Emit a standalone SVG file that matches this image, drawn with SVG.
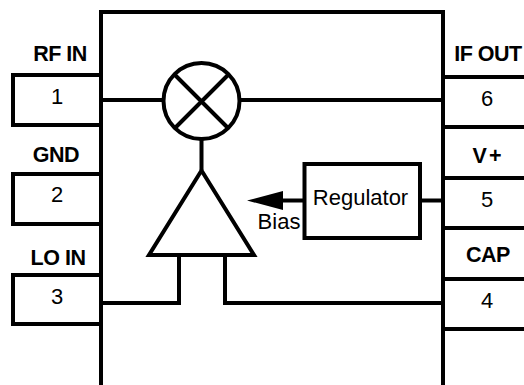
<svg xmlns="http://www.w3.org/2000/svg" width="524" height="385" viewBox="0 0 524 385">
<style>
.l{fill:none;stroke:#000;stroke-width:4;stroke-miterlimit:10}
text{font-family:"Liberation Sans",Arial,sans-serif;fill:#000;text-anchor:middle}
.b{font-weight:bold;font-size:21.500px;letter-spacing:-.5px}
.n{font-size:22px}
</style>
<rect width="524" height="385" fill="#fff"/>
<g id="chip"><path class="l" d="M101 385V12H443V385"/></g>
<g id="pin1"><path class="l" d="M101 75H13V125H101"/><text class="n" x="57" y="104">1</text><text class="b" x="60" y="61">RF IN</text></g>
<g id="pin2"><path class="l" d="M101 174H13V224H101"/><text class="n" x="57" y="202">2</text><text class="b" x="56" y="162">GND</text></g>
<g id="pin3"><path class="l" d="M101 275H13V324H101"/><text class="n" x="57" y="304">3</text><text class="b" x="58" y="265">LO IN</text></g>
<g id="pin6"><path class="l" d="M443 77H524M443 127H524"/><text class="n" x="487" y="106">6</text><text class="b" x="488" y="61">IF OUT</text></g>
<g id="pin5"><path class="l" d="M443 178H524M443 228H524"/><text class="n" x="487" y="207">5</text><text class="b" x="488" y="163" style="letter-spacing:2px">V+</text></g>
<g id="pin4"><path class="l" d="M443 279H524M443 329H524"/><text class="n" x="487" y="308">4</text><text class="b" x="488" y="262">CAP</text></g>
<g id="mixer"><circle class="l" cx="201.500" cy="101" r="38"/><path class="l" d="M175 75L228 128M228 75L175 128"/></g>
<g id="amplifier"><path class="l" d="M201.500 170.500L149 255H254Z"/></g>
<g id="regulator"><rect class="l" x="304.500" y="164" width="115.500" height="74"/><text class="n" x="360.500" y="205">Regulator</text></g>
<g id="connectors">
<path class="l" d="M101 100H164M239 100H443M201.500 139V170M179 255V303H101M225 255V303H443M420 200.500H443M304 200.500H280"/>
<path d="M247 200.500L283 191V210Z"/>
<text class="n" x="279" y="229">Bias</text>
</g>
</svg>
